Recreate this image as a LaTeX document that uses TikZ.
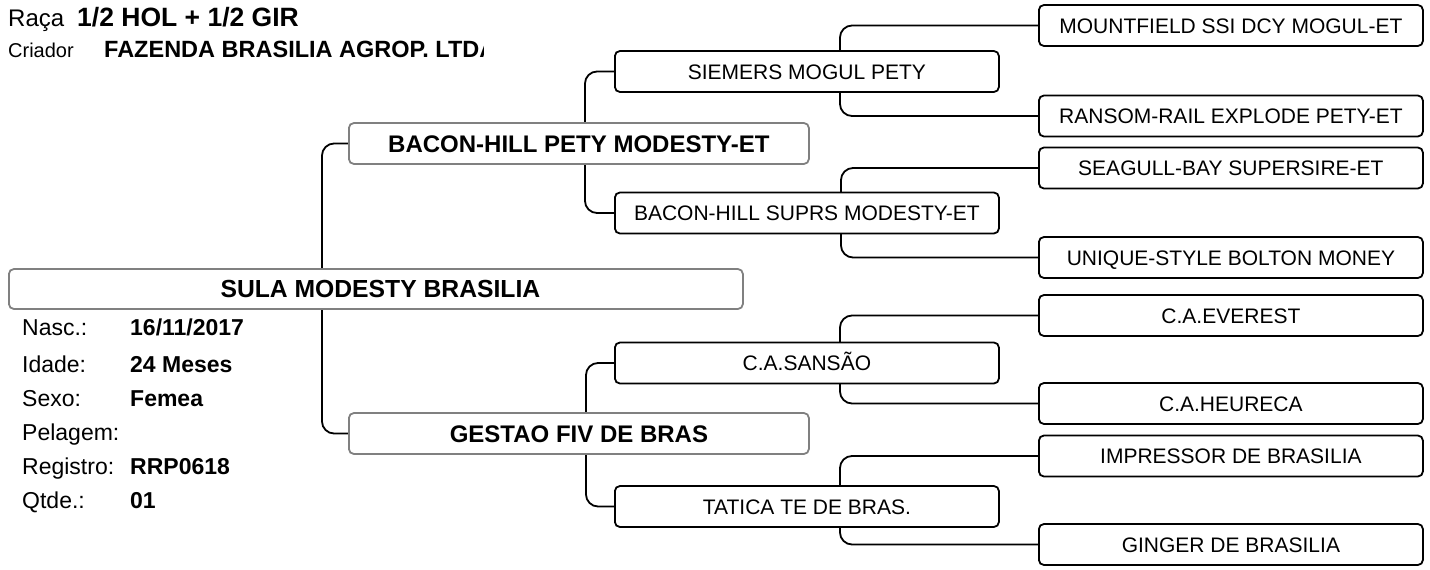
\documentclass[tikz,border=0pt]{standalone}
\usepackage{fontspec}
\setmainfont{Liberation Sans}
\usetikzlibrary{positioning,backgrounds}
\definecolor{boxgray}{RGB}{128,128,128}

\begin{document}
\begin{tikzpicture}[x=1pt,y=1pt,yscale=-1,
  box/.style={draw=black,line width=1.8pt,rounded corners=5pt,fill=white,minimum height=41pt,inner sep=0pt,anchor=west,text height=15pt,text depth=0pt,font=\fontsize{21}{21}\selectfont},
  anc/.style={box,draw=boxgray,text height=17pt,font=\bfseries\fontsize{24}{24}\selectfont},
  gen/.style={box,minimum width=384pt},
  link/.style={line width=1.8pt,rounded corners=12pt},
  lbl/.style={anchor=base west,inner sep=0pt,font=\fontsize{23}{23}\selectfont},
  val/.style={lbl,font=\bfseries\fontsize{23}{23}\selectfont}]
\useasboundingbox (0,0) rectangle (1430,570);

% Text Node
\node (raca) at (8,27) [lbl,font=\fontsize{24}{24}\selectfont] {Raça};
\node (racav) at (77,27) [val,font=\bfseries\fontsize{26.5}{26.5}\selectfont] {1/2 HOL + 1/2 GIR};
\node (criador) at (8,57) [lbl,font=\fontsize{20}{20}\selectfont] {Criador};
\begin{scope}
\clip (100,30) rectangle (483,65);
\node (criadorv) at (104,57) [val,font=\bfseries\fontsize{23.5}{23.5}\selectfont] {FAZENDA BRASILIA AGROP. LTDA};
\end{scope}

% Text Node
\node (nasc) at (22,335) [lbl] {Nasc.:};
\node (nascv) at (130,335) [val] {16/11/2017};
\node (idade) at (22,372) [lbl] {Idade:};
\node (idadev) at (130,372) [val] {24 Meses};
\node (sexo) at (22,406) [lbl] {Sexo:};
\node (sexov) at (130,406) [val] {Femea};
\node (pelagem) at (22,440) [lbl] {Pelagem:};
\node (registro) at (22,474) [lbl] {Registro:};
\node (registrov) at (130,474) [val] {RRP0618};
\node (qtde) at (22,508) [lbl] {Qtde.:};
\node (qtdev) at (130,508) [val] {01};

% Shape: boxes
\node (main) at (8,289) [anc,minimum width=734pt,minimum height=40pt,font=\bfseries\fontsize{24.7}{24.7}\selectfont] {\hspace{9pt}SULA MODESTY BRASILIA};
\node (sire) at (348,143.5) [anc,minimum width=460pt] {BACON-HILL PETY MODESTY-ET};
\node (dam) at (348,433.5) [anc,minimum width=460pt] {GESTAO FIV DE BRAS};
\node (ss) at (614,71.5) [gen] {SIEMERS MOGUL PETY};
\node (sd) at (614,213) [gen] {BACON-HILL SUPRS MODESTY-ET};
\node (ds) at (614,363) [gen] {C.A.SANSÃO};
\node (dd) at (614,506.5) [gen] {TATICA TE DE BRAS.};
\node (sss) at (1038,25.5) [gen] {MOUNTFIELD SSI DCY MOGUL-ET};
\node (ssd) at (1038,116) [gen] {RANSOM-RAIL EXPLODE PETY-ET};
\node (sds) at (1038,168) [gen] {SEAGULL-BAY SUPERSIRE-ET};
\node (sdd) at (1038,257.5) [gen] {UNIQUE-STYLE BOLTON MONEY};
\node (dss) at (1038,315.5) [gen] {C.A.EVEREST};
\node (dsd) at (1038,403.5) [gen] {C.A.HEURECA};
\node (dds) at (1038,456) [gen] {IMPRESSOR DE BRASILIA};
\node (ddd) at (1038,544.5) [gen] {GINGER DE BRASILIA};

%Straight Lines
\begin{scope}[on background layer]
\draw[link] (sire.west) -- ++(-26,0) |- (dam.west);
\draw[link] (ss.west) -- ++(-29,0) |- (sd.west);
\draw[link] (ds.west) -- ++(-28,0) |- (dd.west);
\draw[link] (sss.west) -- ++(-198,0) |- (ssd.west);
\draw[link] (sds.west) -- ++(-197,0) |- (sdd.west);
\draw[link] (dss.west) -- ++(-198,0) |- (dsd.west);
\draw[link] (dds.west) -- ++(-198,0) |- (ddd.west);
\end{scope}

\end{tikzpicture}
\end{document}
